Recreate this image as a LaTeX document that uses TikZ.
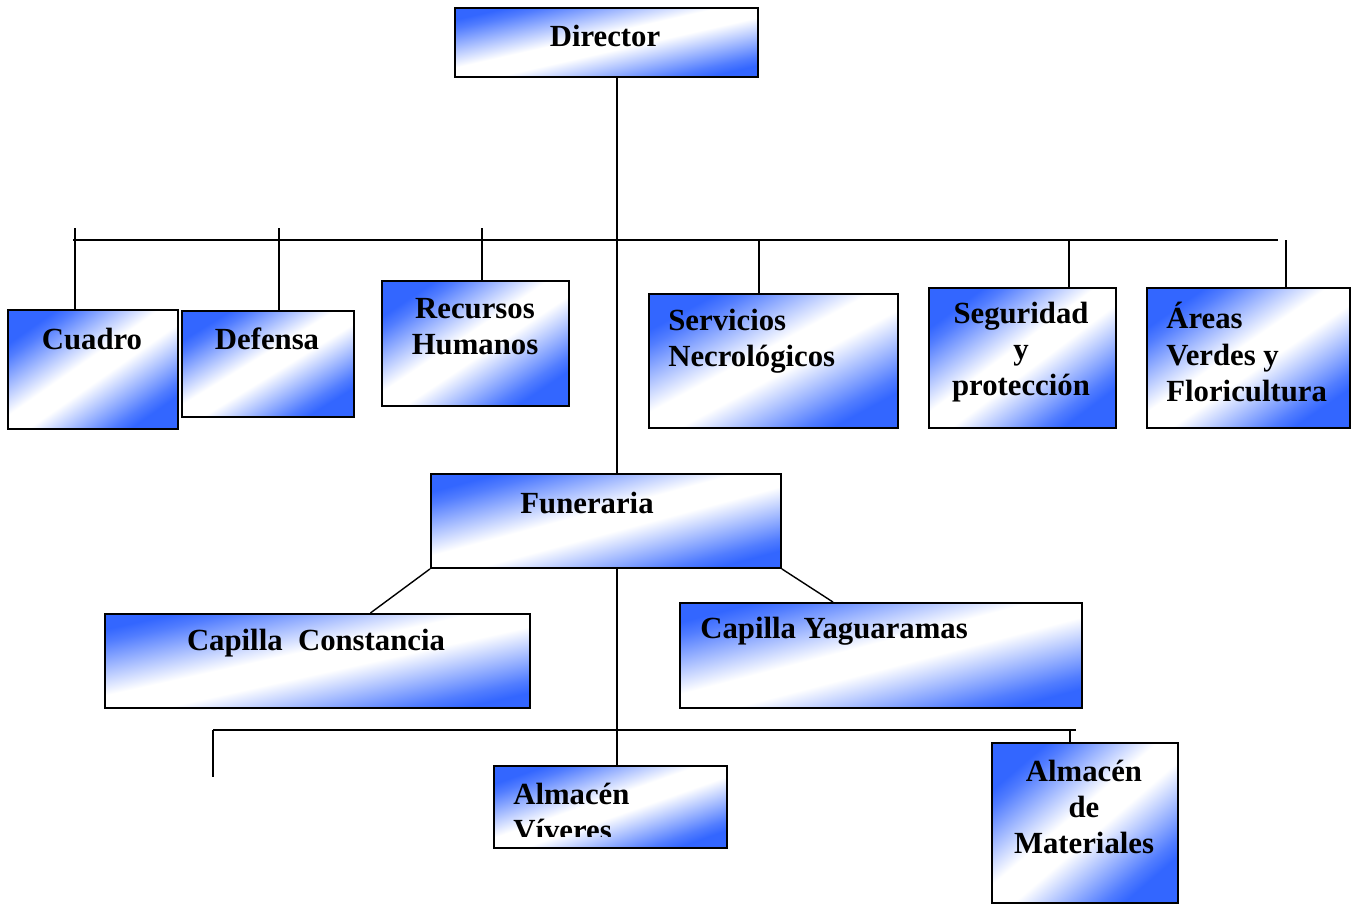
\documentclass[tikz,border=0pt]{standalone}
\usepackage{fontspec}
\setmainfont{Liberation Serif}
\usepackage{tikz}
\usetikzlibrary{positioning}
\definecolor{azul}{RGB}{51,102,255}
\pgfdeclareverticalshading{degradado}{100bp}{color(0bp)=(azul); color(25bp)=(azul); color(29bp)=(azul!85); color(46bp)=(white); color(54bp)=(white); color(71bp)=(azul!85); color(75bp)=(azul); color(100bp)=(azul)}
\tikzstyle{caja} = [draw, line width=1.1pt, rectangle, anchor=north west, inner sep=0pt, shading=degradado]
\tikzstyle{rotulo} = [inner sep=0pt, font=\fontsize{17.5}{20.5}\selectfont\bfseries]
\tikzstyle{linea} = [line width=0.8pt]

\begin{document}
\begin{tikzpicture}[x=0.02cm, y=-0.02cm]
	\useasboundingbox (0,0) rectangle (1356,904);
	\node[caja, minimum width=6.06cm, minimum height=1.38cm, shading angle=12.8] (director) at (454,7) {};
	\node[caja, minimum width=3.40cm, minimum height=2.38cm, shading angle=35.0] (cuadro) at (7,309) {};
	\node[caja, minimum width=3.44cm, minimum height=2.12cm, shading angle=31.6] (defensa) at (181,310) {};
	\node[caja, minimum width=3.74cm, minimum height=2.50cm, shading angle=33.8] (recursos) at (381,280) {};
	\node[caja, minimum width=4.98cm, minimum height=2.68cm, shading angle=28.3] (servicios) at (648,293) {};
	\node[caja, minimum width=3.74cm, minimum height=2.80cm, shading angle=36.8] (seguridad) at (928,287) {};
	\node[caja, minimum width=4.06cm, minimum height=2.80cm, shading angle=34.6] (areas) at (1146,287) {};
	\node[caja, minimum width=7.00cm, minimum height=1.88cm, shading angle=15.0] (funeraria) at (430,473) {};
	\node[caja, minimum width=8.50cm, minimum height=1.88cm, shading angle=12.5] (constancia) at (104,613) {};
	\node[caja, minimum width=8.04cm, minimum height=2.10cm, shading angle=14.6] (yaguaramas) at (679,602) {};
	\node[caja, minimum width=4.66cm, minimum height=1.64cm, shading angle=19.4] (viveres) at (493,765) {};
	\node[caja, minimum width=3.72cm, minimum height=3.20cm, shading angle=40.7] (materiales) at (991,742) {};

	\node[rotulo] (director-t) at (605,36) {Director};
	\node[rotulo] (cuadro-t) at (92,339) {Cuadro};
	\node[rotulo] (defensa-t) at (267,339) {Defensa};
	\node[rotulo, align=center] (recursos-t) at (475,327) {Recursos\\Humanos};
	\node[rotulo, align=left, anchor=west] (servicios-t) at (668,341) {Servicios\\Necrológicos};
	\node[rotulo, align=center] (seguridad-t) at (1021,352) {Seguridad\\y\\protección};
	\node[rotulo, align=left, anchor=west] (areas-t) at (1166,352) {Áreas\\Verdes y\\Floricultura};
	\node[rotulo] (funeraria-t) at (587,503) {Funeraria};
	\node[rotulo] (constancia-t) at (316,643) {Capilla\ \ Constancia};
	\node[rotulo, anchor=west] (yaguaramas-t) at (700,631) {Capilla Yaguaramas};
	\begin{scope}
		\clip (viveres.north west) rectangle (726,836);
		\node[rotulo, align=left, anchor=west] (viveres-t) at (513,812) {Almacén\\Víveres};
	\end{scope}
	\node[rotulo, align=center] (materiales-t) at (1084,807) {Almacén\\de\\Materiales};

	\coordinate (tronco) at (617,240);
	\coordinate (busizq) at (73,240);
	\coordinate (busder) at (1278,240);
	\coordinate (baseizq) at (213,730);
	\coordinate (baseder) at (1076,730);
	\coordinate (basepie) at (213,777);

	\draw[linea] (director.south -| tronco) -- (funeraria.north -| tronco);
	\draw[linea] (funeraria.south -| tronco) -- (viveres.north -| tronco);
	\draw[linea] (busizq) -- (busder);
	\foreach \x/\y/\n in {75/228/cuadro, 279/228/defensa, 482/228/recursos, 759/240/servicios, 1069/240/seguridad, 1286/240/areas}{
		\coordinate (tope) at (\x,\y);
		\draw[linea] (tope) -- (tope |- \n.north);
	}
	\draw[linea] (funeraria.south west) -- ([xshift=1.06cm]constancia.north);
	\draw[linea] (funeraria.south east) -- ([xshift=-0.96cm]yaguaramas.north);
	\draw[linea] (baseizq) -- (baseder);
	\draw[linea] (baseizq) -- (basepie);
	\draw[linea] ([xshift=-0.30cm]materiales.north |- baseder) -- ([xshift=-0.30cm]materiales.north);
\end{tikzpicture}
\end{document}
